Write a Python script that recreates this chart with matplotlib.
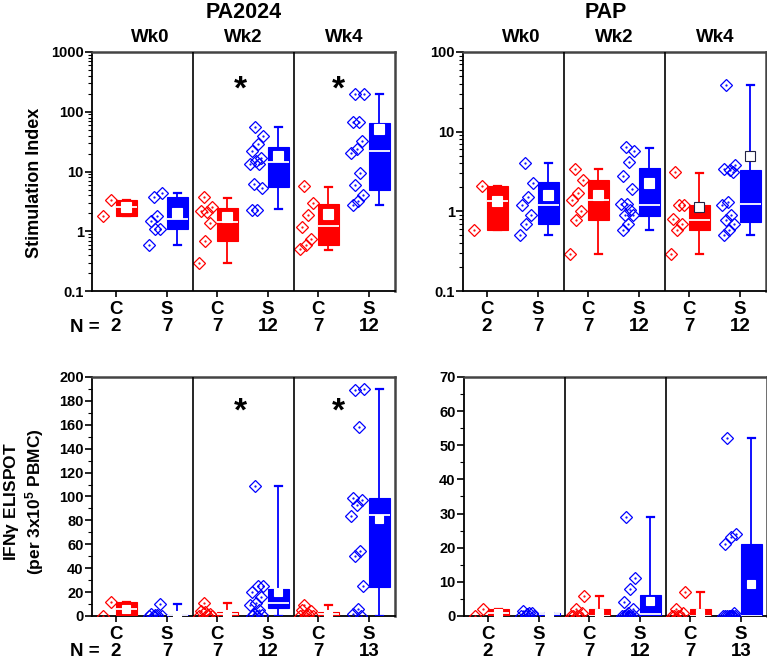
import numpy as np
import matplotlib
matplotlib.use('Agg')
import matplotlib.pyplot as plt
from matplotlib.ticker import LogLocator, NullFormatter, MultipleLocator

plt.rcParams['font.family'] = ['Liberation Sans', 'DejaVu Sans']
plt.rcParams['font.weight'] = 'bold'
plt.rcParams['mathtext.fontset'] = 'custom'
plt.rcParams['mathtext.rm'] = 'Liberation Sans:bold'
plt.rcParams['mathtext.it'] = 'Liberation Sans'
plt.rcParams['mathtext.bf'] = 'Liberation Sans:bold'

# groups in order: C Wk0, S Wk0, C Wk2, S Wk2, C Wk4, S Wk4
weeks = ['Wk0', 'Wk2', 'Wk4']
arms = ['C', 'S']

# PA2024 stimulation index
pa_si = [
    [1.8, 3.4],
    [3.7, 4.4, 1.8, 1.5, 1.1, 1.1, 0.6],
    [3.7, 2.5, 2.1, 2.2, 1.4, 0.7, 0.3],
    [56, 40, 29, 22, 17, 15, 13.5, 13.5, 6.2, 5.4, 2.3, 2.3],
    [5.7, 3.0, 1.9, 1.2, 0.73, 0.6, 0.5],
    [196, 196, 68, 68, 33, 24, 20.5, 9.5, 6.0, 4.1, 3.2, 2.8],
]
# box stats: q1, median, q3, whisker low, whisker high, mean
pa_si_box = [
    (1.78, 2.55, 3.4, 1.78, 3.4, 2.55),
    (1.08, 1.63, 3.76, 0.6, 4.38, 2.05),
    (0.70, 1.41, 2.49, 0.30, 3.66, 1.71),
    (5.5, 14.3, 25.5, 2.33, 55.7, 18.2),
    (0.60, 1.21, 2.9, 0.49, 5.53, 1.93),
    (4.98, 22.1, 65.9, 2.72, 196, 52.3),
]

# PAP stimulation index
pap_si = [
    [0.59, 2.1],
    [4.1, 2.3, 1.5, 1.2, 0.9, 0.7, 0.5],
    [3.4, 2.5, 1.7, 1.4, 1.0, 0.79, 0.29],
    [6.4, 5.8, 4.2, 2.8, 1.9, 1.22, 1.22, 1.03, 0.89, 0.89, 0.69, 0.59],
    [3.1, 1.21, 1.21, 0.81, 0.70, 0.59, 0.29],
    [39, 3.85, 3.3, 3.4, 3.1, 1.31, 1.19, 0.89, 0.79, 0.70, 0.59, 0.50],
]
pap_si_box = [
    (0.58, 1.34, 2.1, 0.58, 2.1, 1.34),
    (0.69, 1.21, 2.31, 0.50, 4.08, 1.59),
    (0.77, 1.37, 2.5, 0.29, 3.4, 1.59),
    (0.87, 1.19, 3.53, 0.59, 6.24, 2.27),
    (0.58, 0.79, 1.21, 0.29, 3.06, 1.13),
    (0.73, 1.25, 3.33, 0.50, 38.9, 4.9),
]

# PA2024 IFN-gamma ELISPOT
pa_el = [
    [0, 12],
    [0, 0, 1, 2, 10, 1, 0],
    [11, 0, 1, 4, 2, 3, 0],
    [109, 25, 25, 20, 16, 11, 9, 5, 2, 1, 0, 0],
    [9, 0, 2, 5, 4, 1, 0],
    [189, 190, 158, 99, 97, 93, 84, 54, 50, 25, 6, 2, 0],
]
pa_el_box = [
    (0, 6, 12, 0, 12, 6),
    (0, 0, 1, 0, 10, 0.5),
    (0, 2, 3, 0, 10.6, 1.5),
    (6.4, 11, 23, 0, 109, 20),
    (0, 2, 3.6, 0, 9.2, 1.8),
    (24.5, 84.4, 99, 0, 190, 80.8),
]

# PAP IFN-gamma ELISPOT
pap_el = [
    [0, 2],
    [0, 0, 1, 1.5, 1, 0.5, 0],
    [2, 6, 0, 0, 1, 0, 0],
    [29, 11, 8, 4, 2, 1, 0, 0, 0, 0, 0, 0],
    [2, 7, 0, 0, 1, 0, 0],
    [52, 24, 23, 21, 1, 0, 0, 0, 0, 0, 0, 0, 0],
]
pap_el_box = [
    (0, 1, 2, 0, 2, 1),
    (0, 0.5, 1, 0, 1, 0.5),
    (0, 0, 2, 0, 6, 1.0),
    (0, 0.5, 6.1, 0, 29, 4.5),
    (0, 0, 2, 0, 7, 1.0),
    (0, 0, 21.1, 0, 52, 9.4),
]

RED = '#ff0000'
BLUE = '#0000ff'


def jitter(n, lo, hi):
    f = (np.arange(n) * 0.618 + 0.3) % 1
    return lo + (hi - lo) * f


def panel(ax, groups, boxes, log):
    ticks = []
    labels = []
    for i, (vals, st) in enumerate(zip(groups, boxes)):
        sec = i // 2
        is_s = i % 2
        col = BLUE if is_s else RED
        tick = 4 * sec + (2.97 if is_s else 0.95)
        ticks.append(tick)
        labels.append(f'{arms[is_s]}\n{len(vals)}')
        xs = jitter(len(vals), tick - 0.7, tick - 0.15)
        ax.plot(xs, vals, 'D', ms=6, mfc='none', mec=col, mew=0.9, zorder=3)
        ax.plot(xs, vals, '.', ms=1.2, color=col, zorder=3)
        q1, med, q3, wlo, whi, mean = st
        edge = '#222244' if (log and mean > 0.9 * q3) else 'white'
        ax.bxp([dict(med=med, q1=q1, q3=q3, whislo=wlo, whishi=whi,
                     mean=mean, fliers=[])],
               positions=[tick + 0.41], widths=0.82, patch_artist=True,
               showmeans=True, capwidths=0.28, manage_ticks=False, zorder=4,
               boxprops=dict(facecolor=col, edgecolor=col, lw=0.8),
               medianprops=dict(color='white', lw=1.3),
               whiskerprops=dict(color=col, lw=1.3),
               capprops=dict(color=col, lw=1.6),
               meanprops=dict(marker='s', mfc='white', mec=edge,
                              ms=6.5 if log else 5.5, mew=0.8))
    ax.set_xlim(0, 12)
    ax.set_xticks(ticks)
    ax.set_xticklabels(labels, fontsize=13.5, linespacing=1.0)
    ax.tick_params(axis='x', length=4, width=1.2, pad=3)
    ax.tick_params(axis='y', which='major', length=5, width=1.2, labelsize=10.5, pad=1)
    ax.tick_params(axis='y', which='minor', length=3, width=0.8)
    ax.axvline(4, color='k', lw=1.2, zorder=5)
    ax.axvline(8, color='k', lw=1.2, zorder=5)
    for s in ['left', 'bottom']:
        ax.spines[s].set_color('black')
        ax.spines[s].set_linewidth(1.3)
    for s in ['top', 'right']:
        ax.spines[s].set_color('#444444')
        ax.spines[s].set_linewidth(1.8)


def log_axis(ax, lo_exp, hi_exp):
    ax.set_yscale('log')
    ax.set_ylim(10.0 ** lo_exp, 10.0 ** hi_exp)
    vals = [10.0 ** e for e in range(lo_exp, hi_exp + 1)]
    ax.set_yticks(vals)
    ax.set_yticklabels([('%g' % v) for v in vals])
    ax.yaxis.set_minor_locator(LogLocator(subs=np.arange(2, 10)))
    ax.yaxis.set_minor_formatter(NullFormatter())


fig = plt.figure(figsize=(7.67, 6.64), dpi=100)
ax1 = fig.add_axes([0.120, 0.5617, 0.395, 0.360])
ax2 = fig.add_axes([0.6037, 0.5617, 0.395, 0.360])
ax3 = fig.add_axes([0.120, 0.0723, 0.395, 0.360])
ax4 = fig.add_axes([0.605, 0.0723, 0.395, 0.360])

panel(ax1, pa_si, pa_si_box, True)
log_axis(ax1, -1, 3)
panel(ax2, pap_si, pap_si_box, True)
log_axis(ax2, -1, 2)
panel(ax3, pa_el, pa_el_box, False)
ax3.set_ylim(0, 200)
ax3.yaxis.set_major_locator(MultipleLocator(20))
ax3.yaxis.set_minor_locator(MultipleLocator(10))
panel(ax4, pap_el, pap_el_box, False)
ax4.set_ylim(0, 70)
ax4.yaxis.set_major_locator(MultipleLocator(10))
ax4.yaxis.set_minor_locator(MultipleLocator(5))

for ax, title, dx in [(ax1, 'PA2024', 6.0), (ax2, 'PAP', 5.65)]:
    tr = ax.get_xaxis_transform()
    ax.text(dx, 1.165, title, transform=tr, ha='center', va='center', fontsize=15.5)
    for k, wk in enumerate(weeks):
        x = 2.3 if k == 0 else 4 * k + 2
        ax.text(x, 1.059, wk, transform=tr, ha='center', va='center', fontsize=13.5)

for ax, y in [(ax1, 0.905), (ax3, 0.92)]:
    tr = ax.get_xaxis_transform()
    for x in [5.86, 9.74]:
        ax.text(x, y, '*', transform=tr, ha='center', va='top', fontsize=24)

fig.text(35 / 767, 1 - 183 / 664, 'Stimulation Index', rotation=90,
         ha='center', va='center', fontsize=13)
fig.text(24 / 767, 1 - 502 / 664,
         'IFN$\\gamma$ ELISPOT\n(per 3x10$^{5}$ PBMC)', rotation=90,
         ha='center', va='center', fontsize=12.5, linespacing=1.15)
fig.text(100 / 767, 1 - 327 / 664, 'N =', ha='right', va='center', fontsize=13.5)
fig.text(100 / 767, 1 - 652 / 664, 'N =', ha='right', va='center', fontsize=13.5)

fig.savefig('out.png', dpi=100)
